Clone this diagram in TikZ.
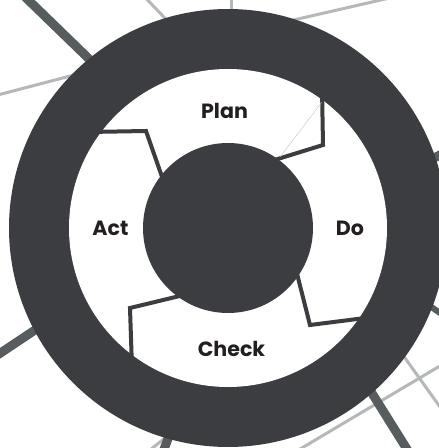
\documentclass[tikz,border=0pt]{standalone}
\usepackage{fontspec}
\setmainfont{Poppins}
\definecolor{ringc}{HTML}{3C3D41}
\definecolor{darkl}{HTML}{575C5F}
\definecolor{lightl}{HTML}{B4B8B9}
\definecolor{txtc}{HTML}{231F20}
\begin{document}
\begin{tikzpicture}[x=1pt,y=1pt,
  thickbg/.style={draw=darkl,line width=9pt},
  thinbg/.style={draw=lightl,line width=3pt},
  divider/.style={draw=ringc,line width=4pt,line join=miter},
  lbl/.style={font=\fontsize{20.6}{24}\selectfont\bfseries,text=txtc,anchor=base,inner sep=0pt}]
\useasboundingbox (-228,-220) rectangle (211,228);
\clip (-228,-220) rectangle (211,228);
\fill[white] (-228,-220) rectangle (211,228);
% background lines
\coordinate (a1) at (-208,236); \coordinate (a2) at (-78,110);
\coordinate (b1) at (-238,-132); \coordinate (b2) at (-148,-72);
\coordinate (c1) at (112,-114); \coordinate (c2) at (187,-234);
\coordinate (d1) at (172,53); \coordinate (d2) at (222,78);
\coordinate (e1) at (172,-57); \coordinate (e2) at (222,-92);
\coordinate (g1) at (-53,-192); \coordinate (g2) at (-68,-232);
\coordinate (f11) at (-238,131); \coordinate (f12) at (-108,165);
\coordinate (f21) at (-88,236); \coordinate (f22) at (-28,173);
\coordinate (f31) at (4,236); \coordinate (f32) at (4,198);
\coordinate (f41) at (22,198); \coordinate (f42) at (192,237);
\coordinate (f51) at (152,-95); \coordinate (f52) at (222,-193);
\coordinate (f61) at (62,-227); \coordinate (f62) at (222,-132);
\coordinate (f71) at (-83,-226); \coordinate (f72) at (-38,-190);
\draw[thinbg] (f11) -- (f12);
\draw[thinbg] (f21) -- (f22);
\draw[thinbg] (f31) -- (f32);
\draw[thinbg] (f41) -- (f42);
\draw[thinbg] (f51) -- (f52);
\draw[thinbg] (f61) -- (f62);
\draw[thinbg] (f71) -- (f72);
\draw[thickbg] (a1) -- (a2);
\draw[thickbg] (b1) -- (b2);
\draw[thickbg] (c1) -- (c2);
\draw[thickbg] (d1) -- (d2);
\draw[thickbg,line width=6pt] (e1) -- (e2);
\draw[thickbg] (g1) -- (g2);
% rings
\node[circle,fill=ringc,minimum size=438pt,inner sep=0pt] (outer) at (0,0) {};
\node[circle,fill=white,minimum size=318pt,inner sep=0pt] (annulus) at (0,0) {};
% dividers
\draw[divider] (-140,96) -- (-82,97) -- (-60,34);
\draw[divider] (94,140) -- (95,83) -- (40,66);
\draw[divider] (145,-89) -- (82,-97) -- (64,-26);
\draw[divider] (-96,-140) -- (-98,-80) -- (-40,-66);
\draw[draw=lightl,line width=0.3pt] (94,126) -- (52,71);
\node[circle,fill=ringc,minimum size=170pt,inner sep=0pt] (core) at (0,0) {};
% labels
\node[lbl] (plan) at (-3.5,110) {Plan};
\node[lbl] (act) at (-117.5,-7.5) {Act};
\node[lbl] (do) at (122,-7) {Do};
\node[lbl] (check) at (3.5,-128) {Check};
\end{tikzpicture}
\end{document}
